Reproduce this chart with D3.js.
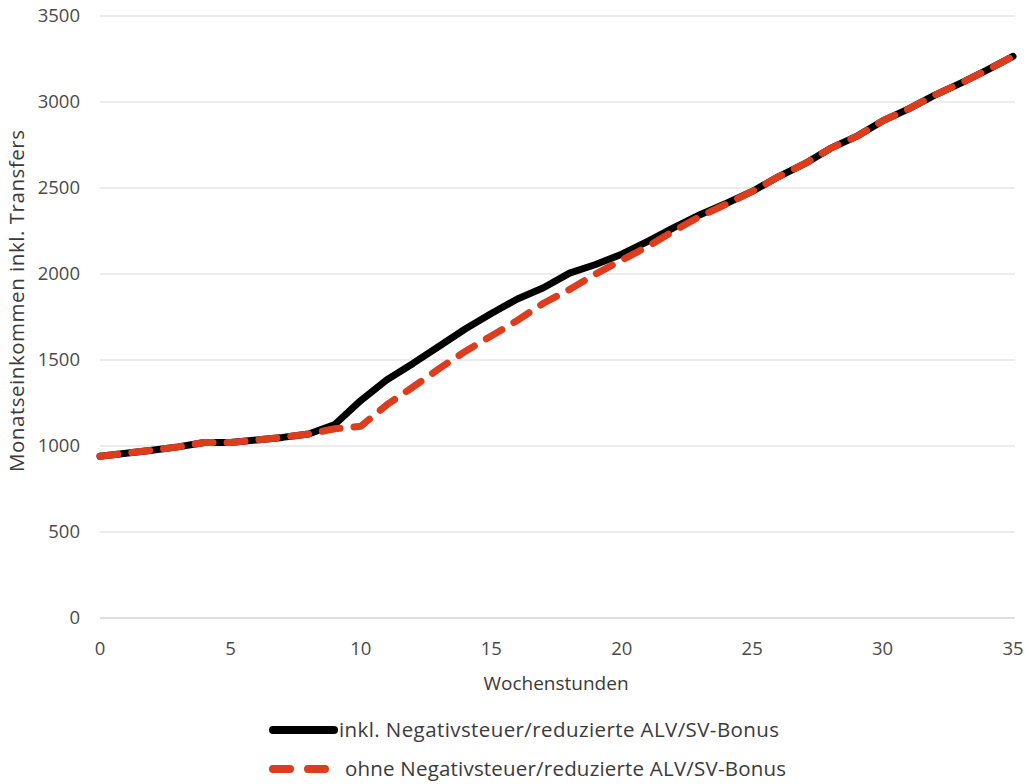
<!DOCTYPE html>
<html><head><meta charset="utf-8">
<script src="https://cdn.jsdelivr.net/npm/d3@7"></script>
<style>body{margin:0;background:#fff}svg{display:block}text{font-family:"Open Sans",sans-serif}</style>
</head><body><svg id="c" width="1029" height="784"></svg>
<script>
const hours = d3.range(0, 36);
const seriesNames = ["inkl. Negativsteuer/reduzierte ALV/SV-Bonus", "ohne Negativsteuer/reduzierte ALV/SV-Bonus"];
const withBonus = [940,958,975,995,1020,1020,1035,1050,1070,1125,1265,1385,1480,1580,1680,1770,1855,1920,2005,2055,2115,2190,2270,2345,2410,2480,2565,2640,2730,2800,2890,2960,3040,3110,3185,3265];
const withoutBonus = [940,958,975,995,1020,1020,1035,1050,1070,1100,1115,1240,1343,1450,1550,1640,1730,1830,1910,2000,2080,2160,2250,2335,2405,2480,2565,2640,2730,2800,2890,2960,3040,3110,3185,3265];
const xTicks = [0,5,10,15,20,25,30,35];
const yTicks = [0,500,1000,1500,2000,2500,3000,3500];

const svg = d3.select("#c");
const x = d3.scaleLinear().domain([0,35]).range([100,1013]);
const y = d3.scaleLinear().domain([0,3500]).range([618,16]);

svg.append("g").selectAll("line").data(yTicks.filter(d=>d>0)).join("line")
  .attr("x1",100).attr("x2",1015).attr("y1",d=>y(d)).attr("y2",d=>y(d))
  .attr("stroke","#d9d9d9").attr("stroke-width",1);
svg.append("line").attr("x1",100).attr("x2",1015).attr("y1",y(0)).attr("y2",y(0)).attr("stroke","#bfbfbf");

svg.append("g").selectAll("text").data(yTicks).join("text")
  .attr("x",80).attr("y",d=>y(d)+6).attr("text-anchor","end")
  .attr("font-size",18.5).attr("fill","#4a4a4a").text(d=>d);
svg.append("g").selectAll("text").data(xTicks).join("text")
  .attr("x",d=>x(d)).attr("y",655).attr("text-anchor","middle")
  .attr("font-size",18.5).attr("fill","#4a4a4a").text(d=>d);

svg.append("text").attr("x",556).attr("y",690).attr("text-anchor","middle")
  .attr("font-size",19).attr("fill","#3a3a3a").text("Wochenstunden");
svg.append("text").attr("transform","translate(24,301) rotate(-90)").attr("text-anchor","middle")
  .attr("font-size",20.5).attr("fill","#3a3a3a").attr("textLength",342).text("Monatseinkommen inkl. Transfers");

const line = d3.line().x((d,i)=>x(hours[i])).y(d=>y(d));
svg.append("path").attr("d",line(withBonus)).attr("fill","none")
  .attr("stroke","#000").attr("stroke-width",7).attr("stroke-linejoin","round").attr("stroke-linecap","round");
svg.append("path").attr("d",line(withoutBonus)).attr("fill","none")
  .attr("stroke","#dc3d1f").attr("stroke-width",7).attr("stroke-linejoin","round").attr("stroke-linecap","round")
  .attr("stroke-dasharray","18 14");

// legend
svg.append("line").attr("x1",273).attr("x2",334).attr("y1",730).attr("y2",730)
  .attr("stroke","#000").attr("stroke-width",8).attr("stroke-linecap","round");
svg.append("text").attr("x",339).attr("y",737).attr("font-size",20.5).attr("fill","#3a3a3a")
  .attr("textLength",440).text(seriesNames[0]);
svg.append("line").attr("x1",273).attr("x2",334).attr("y1",769).attr("y2",769)
  .attr("stroke","#dc3d1f").attr("stroke-width",8).attr("stroke-linecap","round").attr("stroke-dasharray","17 18");
svg.append("text").attr("x",345).attr("y",776).attr("font-size",20.5).attr("fill","#3a3a3a")
  .attr("textLength",441).text(seriesNames[1]);
</script></body></html>
